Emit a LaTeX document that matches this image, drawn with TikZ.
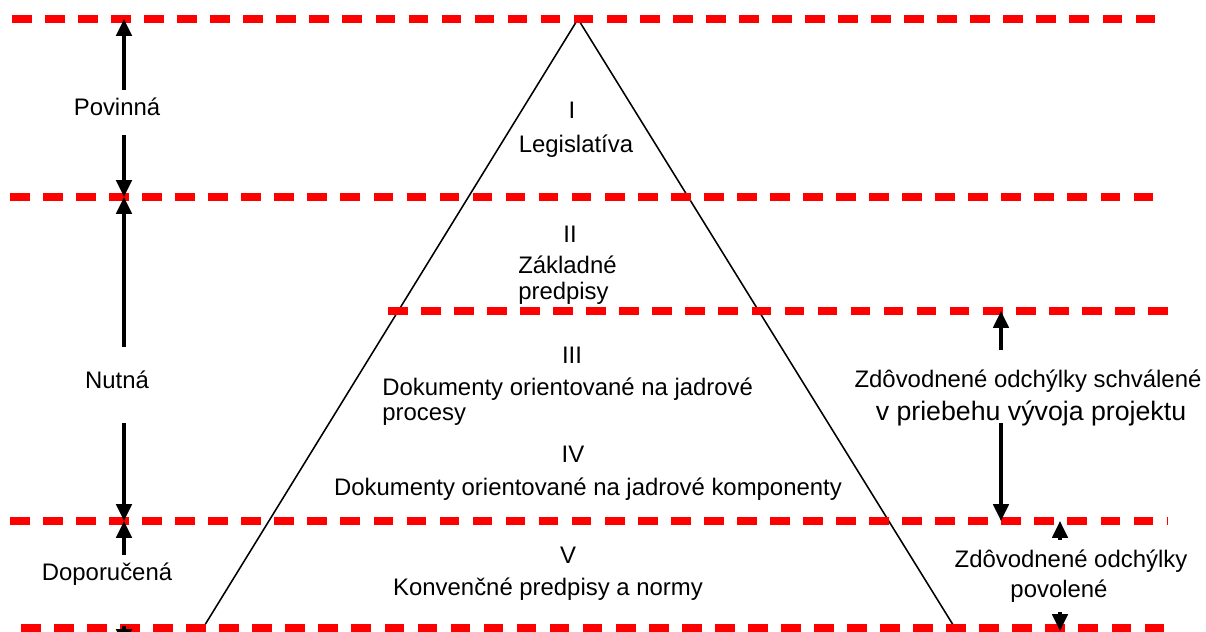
\documentclass[tikz,border=0pt]{standalone}
\usepackage{fontspec}
\setmainfont{Liberation Sans}
\usepackage{tikz}
\usetikzlibrary{arrows.meta}
\definecolor{cervena}{HTML}{FF0000}

\tikzset{
  hranica/.style={cervena, line width=5pt, dash pattern=on 14pt off 9.5pt},
  sipka/.style={-{Triangle[length=12pt,width=11pt]}, line width=2.2pt},
  txt/.style={font=\fontsize{17}{18.5}\selectfont, inner sep=0pt, anchor=base},
}

\begin{document}
\begin{tikzpicture}[x=0.025cm, y=-0.025cm]
  \useasboundingbox (0,0) rectangle (1206,632);
  % pyramida
  \coordinate (vrchol) at (578,19);
  \coordinate (zakladL) at (203,628);
  \coordinate (zakladP) at (955,628);
  \draw[line width=1.1pt] (zakladL) -- (vrchol) -- (zakladP);
  % hranice urovni
  \draw[hranica] (12,19) -- (1160,19);
  \draw[hranica] (10,197) -- (1166,197);
  \draw[hranica] (388,311) -- (1168,311);
  \draw[hranica] (10,521) -- (1167,521);
  \draw[hranica] (21,628) -- (1177,628);
  % urovne v pyramide
  \node[txt] (r1) at (572,118) {I};
  \node[txt] (legis) at (576,152) {Legislatíva};
  \node[txt] (r2) at (570,242) {II};
  \node[txt, anchor=base west] (zakl) at (518,273) {Základné};
  \node[txt, anchor=base west] (predp) at (518,299) {predpisy};
  \node[txt] (r3) at (572,363) {III};
  \node[txt, anchor=base west] (dokproc) at (382,395) {Dokumenty orientované na jadrové};
  \node[txt, anchor=base west] (proc) at (382,420) {procesy};
  \node[txt] (r4) at (573,462) {IV};
  \node[txt] (dokkomp) at (588,495) {Dokumenty orientované na jadrové komponenty};
  \node[txt] (r5) at (568,563) {V};
  \node[txt] (konv) at (548,595) {Konvenčné predpisy a normy};
  % vlavo
  \node[txt] (povinna) at (117,115) {Povinná};
  \node[txt] (nutna) at (117,388) {Nutná};
  \node[txt] (doporucena) at (107,580) {Doporučená};
  \coordinate (p1) at (124,90);   \coordinate (h1) at (124,19);
  \coordinate (p2) at (124,135);  \coordinate (h2) at (124,197);
  \coordinate (n1) at (124,347);  \coordinate (n2) at (124,423);
  \coordinate (h4) at (124,521);
  \coordinate (d1) at (124,555);  \coordinate (d2) at (124,626);
  \coordinate (h5) at (124,646);
  \draw[sipka] (p1) -- (h1);
  \draw[sipka] (p2) -- (h2);
  \draw[sipka] (n1) -- (h2);
  \draw[sipka] (n2) -- (h4);
  \draw[sipka] (d1) -- (h4);
  \draw[sipka] (d2) -- (h5);
  % vpravo
  \node[txt] (schval) at (1028,387) {Zdôvodnené odchýlky schválené};
  \node[txt, font=\fontsize{19}{20}\selectfont] (vyvoj) at (1031,420) {v priebehu vývoja projektu};
  \node[txt] (povol1) at (1071,567) {Zdôvodnené odchýlky};
  \node[txt] (povol2) at (1059,597) {povolené};
  \coordinate (s1) at (1001,350);  \coordinate (t3) at (1001,311);
  \coordinate (s2) at (1001,423);  \coordinate (t4) at (1001,521);
  \coordinate (v1) at (1060,540);  \coordinate (u4) at (1060,521);
  \coordinate (v2) at (1060,612);  \coordinate (u5) at (1060,631);
  \draw[sipka] (s1) -- (t3);
  \draw[sipka] (s2) -- (t4);
  \draw[sipka] (v1) -- (u4);
  \draw[sipka] (v2) -- (u5);
\end{tikzpicture}
\end{document}
